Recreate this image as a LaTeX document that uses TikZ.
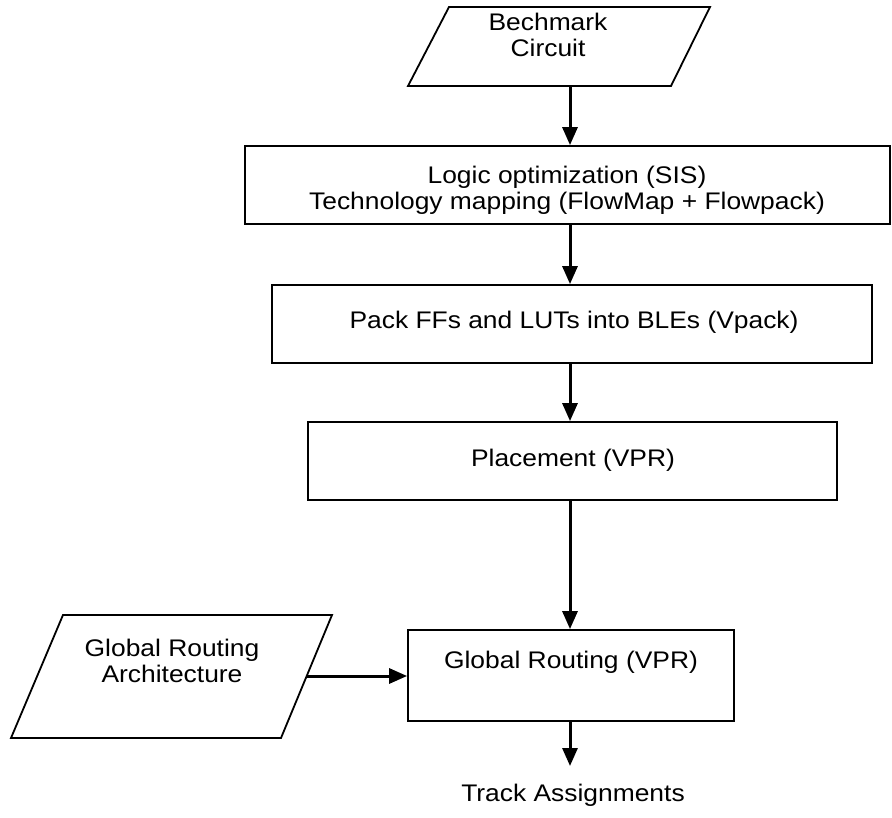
\documentclass[tikz,border=0pt]{standalone}
\usepackage{fontspec}
\setmainfont[FakeStretch=1.1]{Liberation Sans}
\usetikzlibrary{arrows.meta}

\begin{document}
\begin{tikzpicture}[x=1pt,y=-1pt,
  every node/.style={font=\fontsize{24}{26}\selectfont, align=center, inner sep=0pt},
  procbox/.style={draw, line width=1.8pt, rectangle},
  iobox/.style={line width=1.8pt, line join=miter},
  flow/.style={line width=3pt, -{Triangle[length=18pt,width=15pt]}}
]
\useasboundingbox (0,0) rectangle (892,818);

% common vertical spine of the flow
\coordinate (spine) at (570,0);

% input: benchmark circuit
\coordinate (b1) at (449,7);
\coordinate (b2) at (710,7);
\coordinate (b3) at (671,86);
\coordinate (b4) at (408,86);
\draw[iobox] (b1) -- (b2) -- (b3) -- (b4) -- cycle;
\node (bench) at (548,35) {Bechmark\\Circuit};
\coordinate (benchout) at (570,86);

% processing steps
\node[procbox, minimum width=645pt, minimum height=78pt] (synth) at (567.5,185) {};
\node (synthtxt) at (567,190) {Logic optimization (SIS)\\Technology mapping (FlowMap + Flowpack)};

\node[procbox, minimum width=600pt, minimum height=78pt] (pack) at (572,324) {};
\node (packtxt) at (574,322) {Pack FFs and LUTs into BLEs (Vpack)};

\node[procbox, minimum width=529pt, minimum height=78pt] (place) at (572.5,461) {};
\node (placetxt) at (573,460) {Placement (VPR)};

\node[procbox, minimum width=326pt, minimum height=91pt] (route) at (571,675.5) {};
\node (routetxt) at (571,662) {Global Routing (VPR)};

% input: routing architecture
\coordinate (a1) at (63,615);
\coordinate (a2) at (332,615);
\coordinate (a3) at (281,738);
\coordinate (a4) at (11,738);
\draw[iobox] (a1) -- (a2) -- (a3) -- (a4) -- cycle;
\node (arch) at (172,661) {Global Routing\\Architecture};
\coordinate (archout) at (307,676);

% output
\node (tracks) at (573,795) {Track Assignments};
\coordinate (tracksin) at (570,766);

% connectors
\draw[flow] (benchout) -- (synth.north -| spine);
\draw[flow] (synth.south -| spine) -- (pack.north -| spine);
\draw[flow] (pack.south -| spine) -- (place.north -| spine);
\draw[flow] (place.south -| spine) -- (route.north -| spine);
\draw[flow] (route.south -| spine) -- (tracksin);
\draw[flow] (archout) -- (archout -| route.west);
\end{tikzpicture}
\end{document}
